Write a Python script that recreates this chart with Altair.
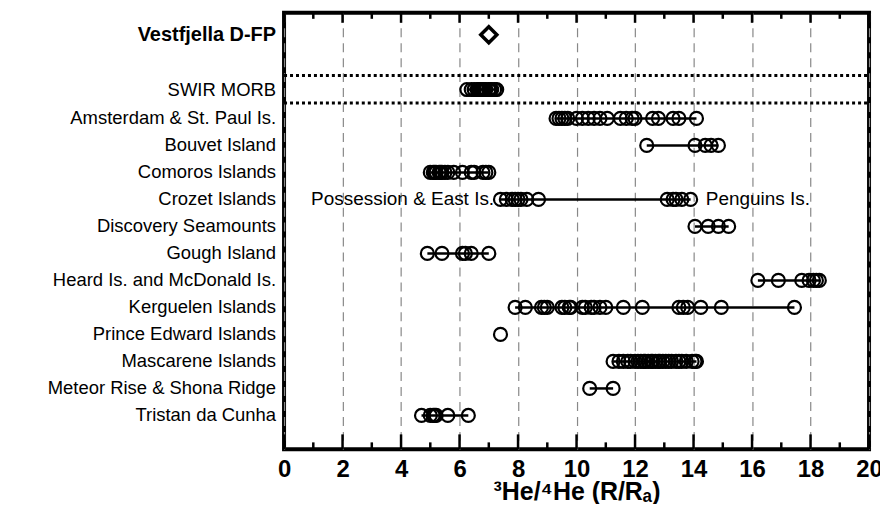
import altair as alt
import pandas as pd

# Row names (top to bottom) and their vertical positions
row_names = ["Vestfjella D-FP", "SWIR MORB", "Amsterdam & St. Paul Is.", "Bouvet Island",
             "Comoros Islands", "Crozet Islands", "Discovery Seamounts", "Gough Island",
             "Heard Is. and McDonald Is.", "Kerguelen Islands", "Prince Edward Islands",
             "Mascarene Islands", "Meteor Rise & Shona Ridge", "Tristan da Cunha"]
row_pos = [14.1, 12.07, 11, 10, 9, 8, 7, 6, 5, 4, 3, 2, 1, 0]

vestfjella = [7.0]
swir = [6.25, 6.4, 6.5, 6.6, 6.65, 6.7, 6.75, 6.8, 6.85, 6.9, 7.0, 7.05, 7.1, 7.2, 7.27]
amsterdam = [9.3, 9.4, 9.5, 9.6, 9.7, 10.0, 10.2, 10.4, 10.6, 10.8, 11.05, 11.5, 11.7,
             11.9, 12.0, 12.6, 12.8, 13.3, 13.5, 14.1]
bouvet = [12.4, 14.05, 14.4, 14.6, 14.85]
comoros = [5.0, 5.1, 5.15, 5.2, 5.3, 5.35, 5.4, 5.5, 5.6, 5.8, 6.1, 6.4, 6.5, 6.8, 6.9, 7.0]
crozet = [7.4, 7.6, 7.8, 7.9, 8.0, 8.1, 8.3, 8.7, 13.1, 13.3, 13.4, 13.6, 13.9]
discovery = [14.05, 14.5, 14.85, 15.2]
gough = [4.9, 5.4, 6.1, 6.2, 6.4, 7.0]
heard = [16.2, 16.9, 17.7, 17.95, 18.1, 18.2, 18.3]
kerguelen = [7.9, 8.25, 8.8, 8.9, 9.0, 9.5, 9.6, 9.75, 9.8, 10.2, 10.3, 10.5, 10.6, 10.8,
             11.0, 11.6, 12.25, 13.5, 13.65, 13.8, 14.25, 14.95, 17.45]
prince_edward = [7.4]
mascarene = [11.25, 11.45, 11.6, 11.75, 11.85, 12.0, 12.1, 12.2, 12.3, 12.35, 12.45, 12.55,
             12.6, 12.7, 12.8, 12.85, 12.95, 13.05, 13.15, 13.25, 13.4, 13.5, 13.6, 13.75,
             13.95, 14.05, 14.1]
meteor = [10.45, 11.25]
tristan = [4.7, 5.0, 5.1, 5.15, 5.2, 5.6, 6.3]

circle_rows = [swir, amsterdam, bouvet, comoros, crozet, discovery, gough, heard,
               kerguelen, prince_edward, mascarene, meteor, tristan]
circle_pos = row_pos[1:]

separator_pos = [12.59, 11.57]
x_ticks_major = list(range(0, 21, 2))
x_ticks_minor = list(range(1, 20, 2))

annotations = [
    {"x": 7.25, "y": 8, "text": "Possession & East Is.", "align": "right"},
    {"x": 14.35, "y": 8, "text": "Penguins Is.", "align": "left"},
]

W, H = 587, 438
FONT = "Liberation Sans"

pts = pd.DataFrame([{"v": v, "pos": p} for vals, p in zip(circle_rows, circle_pos) for v in vals])
rng = pd.DataFrame([{"lo": min(vals), "hi": max(vals), "pos": p}
                    for vals, p in zip(circle_rows, circle_pos) if len(vals) > 1])
vest = pd.DataFrame({"v": vestfjella, "pos": [row_pos[0]]})
sep = pd.DataFrame({"pos": separator_pos})
maj = pd.DataFrame({"t": x_ticks_major})
mnr = pd.DataFrame({"t": x_ticks_minor})
lab_bold = pd.DataFrame({"name": row_names[:1], "pos": row_pos[:1]})
lab_norm = pd.DataFrame({"name": row_names[1:], "pos": row_pos[1:]})

xscale = alt.Scale(domain=[0, 20], nice=False, zero=False)
yscale = alt.Scale(domain=[-1.255, 14.91], nice=False, zero=False)

x_enc = alt.X("v:Q", scale=xscale, axis=alt.Axis(
    values=x_ticks_major, ticks=False, domain=False, grid=True,
    gridColor="#888888", gridDash=[9, 6], gridWidth=1.2,
    labelFont=FONT, labelFontSize=24, labelFontWeight="bold", labelColor="black",
    labelPadding=8, labelFlush=False, labelOverlap=False,
    title="³He/⁴He (R/Rₐ)", titleFont=FONT, titleFontSize=25,
    titleFontWeight="bold", titleColor="black", titlePadding=-2))
y_enc = alt.Y("pos:Q", scale=yscale, axis=None)

lines = alt.Chart(rng).mark_rule(color="black", strokeWidth=2.5).encode(
    x=alt.X("lo:Q", scale=xscale), x2="hi:Q", y=y_enc)

circles = alt.Chart(pts).mark_point(shape="circle", filled=False, size=170, strokeWidth=2.2,
                                    color="black", opacity=1).encode(x=x_enc, y=y_enc)

diamond = alt.Chart(vest).mark_point(shape="diamond", filled=False, size=260, strokeWidth=3.5,
                                     color="black", opacity=1).encode(
    x=alt.X("v:Q", scale=xscale), y=y_enc)

seps = alt.Chart(sep).mark_rule(color="black", strokeWidth=3, strokeDash=[3, 3]).encode(
    y=y_enc, x=alt.value(0), x2=alt.value(W))

labels_norm = alt.Chart(lab_norm).mark_text(
    align="right", baseline="middle", font=FONT, fontSize=18.5, color="black").encode(
    x=alt.value(-8), y=y_enc, text="name:N")
labels_bold = alt.Chart(lab_bold).mark_text(
    align="right", baseline="middle", font=FONT, fontSize=20, fontWeight="bold",
    color="black").encode(x=alt.value(-8), y=y_enc, text="name:N")

ann_layers = []
for a in annotations:
    ann_layers.append(alt.Chart(pd.DataFrame([a])).mark_text(
        align=a["align"], baseline="middle", font=FONT, fontSize=19, color="black",
        dx=(-2 if a["align"] == "right" else 2)).encode(
        x=alt.X("x:Q", scale=xscale), y=alt.Y("y:Q", scale=yscale, axis=None), text="text:N"))

tick_bot_maj = alt.Chart(maj).mark_rule(color="black", strokeWidth=2.5).encode(
    x=alt.X("t:Q", scale=xscale), y=alt.value(H - 15), y2=alt.value(H))
tick_bot_min = alt.Chart(mnr).mark_rule(color="black", strokeWidth=2.5).encode(
    x=alt.X("t:Q", scale=xscale), y=alt.value(H - 7), y2=alt.value(H))
tick_top_maj = alt.Chart(maj).mark_rule(color="black", strokeWidth=2.5).encode(
    x=alt.X("t:Q", scale=xscale), y=alt.value(0), y2=alt.value(10))
tick_top_min = alt.Chart(mnr).mark_rule(color="black", strokeWidth=2.5).encode(
    x=alt.X("t:Q", scale=xscale), y=alt.value(0), y2=alt.value(6))

chart = alt.layer(circles, lines, diamond, seps, labels_norm, labels_bold, *ann_layers,
                  tick_bot_maj, tick_bot_min, tick_top_maj, tick_top_min).properties(
    width=W, height=H,
    autosize=alt.AutoSizeParams(type="none"),
    padding={"left": 277, "top": 4, "right": 11, "bottom": 54},
    background="white",
).configure_view(stroke="black", strokeWidth=4)

chart.save("out.html", embed_options={"renderer": "svg", "actions": False})
